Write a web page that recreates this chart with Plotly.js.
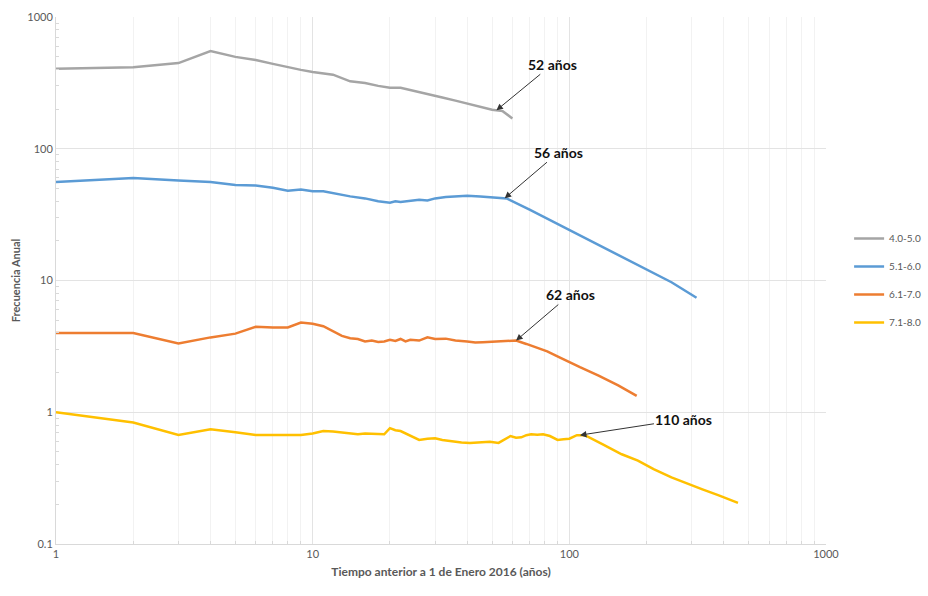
<!DOCTYPE html>
<html>
<head>
<meta charset="utf-8">
<script src="https://cdn.plot.ly/plotly-3.0.1.min.js"></script>
<style>html,body{margin:0;padding:0;background:#fff;}#chart{width:928px;height:596px;}</style>
</head>
<body>
<div id="chart"></div>
<script>
// ---- Data ----
const seriesNames = ["4.0-5.0", "5.1-6.0", "6.1-7.0", "7.1-8.0"];

const grayX = [1,2,3,4,5,6,7,8,9,10,12,14,16,18,20,22,25,28,32,36,40,45,50,55,60];
const grayY = [404,415,447,552,498,472,441,415,397,383,365,325,315,300,290,290,275,262,245,232,220,210,198,193,170];

const blueX = [1,2,3,4,5,6,7,8,9,10,11,12,14,16,18,20,21,22,24,26,28,30,33,36,40,45,50,57,70,90,120,160,200,250,313];
const blueY = [56,60,57.5,56,53,52.5,50.5,48,49,47.5,47.5,46,43.5,42,40,39,40,39.5,40.5,41,40.5,42,43,43.5,44,43.5,43,42,34.5,26.9,20.2,15.1,12.1,9.7,7.4];

const orangeX = [1,2,3,4,5,6,7,8,9,10,11,12,13,14,15,16,17,18,19,20,21,22,23,24,26,28,30,33,36,40,43,46,50,55,62,68,75,82,92,100,110,130,155,183];
const orangeY = [4.0,4.0,3.33,3.7,3.95,4.45,4.4,4.4,4.8,4.7,4.5,4.1,3.8,3.65,3.6,3.45,3.5,3.42,3.45,3.55,3.48,3.6,3.45,3.55,3.5,3.7,3.6,3.62,3.5,3.45,3.38,3.4,3.42,3.48,3.5,3.3,3.1,2.9,2.6,2.4,2.2,1.9,1.6,1.33];

const yellowX = [1,2,3,4,5,6,7,8,9,10,11,12,13,14,15,16,17,18,19,20,21,22,24,26,28,30,32,35,38,41,45,49,53,56,59,62,65,68,71,75,79,84,90,95,100,107,115,135,160,185,213,250,300,330,380,454];
const yellowY = [1.0,0.835,0.673,0.743,0.705,0.673,0.673,0.673,0.673,0.69,0.72,0.715,0.70,0.69,0.68,0.69,0.685,0.68,0.68,0.757,0.73,0.72,0.66,0.617,0.63,0.635,0.615,0.60,0.59,0.583,0.59,0.596,0.585,0.62,0.66,0.64,0.645,0.67,0.68,0.675,0.68,0.66,0.617,0.625,0.63,0.67,0.67,0.57,0.48,0.43,0.37,0.32,0.277,0.26,0.235,0.205];

const annotYears = [52, 56, 62, 110];
const annotLabels = ["52 años", "56 años", "62 años", "110 años"];

const yTickVals = [0.1, 1, 10, 100, 1000];
const yTickText = ["0.1", "1", "10", "100", "1000"];
const xTickVals = [1, 10, 100, 1000];
const xTickText = ["1", "10", "100", "1000"];

// ---- Styling ----
const colors = ["#a5a5a5", "#5b9bd5", "#ed7d31", "#ffc000"];
const allX = [grayX, blueX, orangeX, yellowX];
const allY = [grayY, blueY, orangeY, yellowY];
const FONT = "Lato, 'Open Sans', sans-serif";

const traces = allX.map((xs, i) => ({
  x: xs, y: allY[i], type: "scatter", mode: "lines",
  name: seriesNames[i], legendgroup: "g" + i,
  line: {color: colors[i], width: 2.5}
}));

// log-space interpolation to place arrow heads on the series
function interpLog(xs, ys, xv) {
  for (let k = 0; k < xs.length - 1; k++) {
    if (xv >= xs[k] && xv <= xs[k + 1]) {
      const t = (Math.log10(xv) - Math.log10(xs[k])) / (Math.log10(xs[k + 1]) - Math.log10(xs[k]));
      return Math.log10(ys[k]) + t * (Math.log10(ys[k + 1]) - Math.log10(ys[k]));
    }
  }
  return Math.log10(ys[ys.length - 1]);
}

const offsets = [[56, -46], [54, -46], [54, -46], [104, -16]];
const annotations = annotYears.map((yr, i) => ({
  x: Math.log10(yr), y: interpLog(allX[i], allY[i], yr),
  xref: "x", yref: "y",
  text: "<b>" + annotLabels[i] + "</b>",
  showarrow: true, arrowhead: 2, arrowsize: 1.3, arrowwidth: 1, arrowcolor: "#333",
  ax: offsets[i][0], ay: offsets[i][1],
  font: {family: FONT, size: 14, color: "#111"}
}));

const minorVals = [];
for (let d = -1; d < 3; d++) for (let m = 2; m <= 9; m++) minorVals.push(m * Math.pow(10, d));

const axisCommon = {
  type: "log", showline: true, linecolor: "#d9d9d9", linewidth: 1,
  gridcolor: "#e3e3e3", gridwidth: 1, ticks: "", zeroline: false,
  tickfont: {family: FONT, size: 11, color: "#595959"}
};

const layout = {
  width: 928, height: 596,
  margin: {l: 56, r: 102, t: 17, b: 52, autoexpand: false},
  paper_bgcolor: "#ffffff", plot_bgcolor: "#ffffff",
  font: {family: FONT, color: "#595959"},
  xaxis: Object.assign({}, axisCommon, {
    range: [0, 3], tickvals: xTickVals, ticktext: xTickText,
    minor: {tickvals: minorVals, showgrid: true, gridcolor: "#f2f2f2", ticks: "inside", ticklen: 3, tickcolor: "#d9d9d9"},
    title: {text: "<b>Tiempo anterior a 1 de Enero 2016 (años)</b>", standoff: 8,
            font: {family: FONT, size: 12, color: "#595959"}}
  }),
  yaxis: Object.assign({}, axisCommon, {
    range: [-1, 3], tickvals: yTickVals, ticktext: yTickText,
    minor: {tickvals: minorVals, showgrid: false, ticks: "inside", ticklen: 3, tickcolor: "#d9d9d9"},
    title: {text: "<b>Frecuencia Anual</b>", standoff: 4,
            font: {family: FONT, size: 11, color: "#595959"}}
  }),
  legend: {
    x: 1.03, xanchor: "left", y: 0.5, yanchor: "middle",
    traceorder: "grouped", tracegroupgap: 9,
    font: {family: FONT, size: 10, color: "#595959"},
    bgcolor: "rgba(0,0,0,0)"
  },
  annotations: annotations,
  showlegend: true
};

Plotly.newPlot("chart", traces, layout, {displayModeBar: false, staticPlot: true});
</script>
</body>
</html>
